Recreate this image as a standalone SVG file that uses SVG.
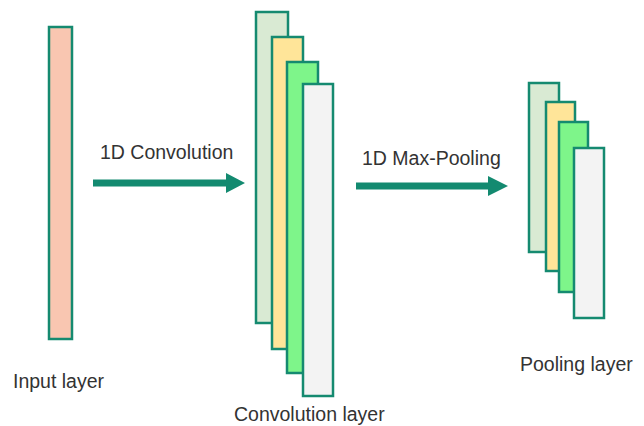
<svg xmlns="http://www.w3.org/2000/svg" width="644" height="426" viewBox="0 0 644 426">
<style>
.b{stroke:#158a70;stroke-width:2.5}
.t{font-family:"Liberation Sans",Arial,sans-serif;font-size:19.5px;fill:#333}
.c1{fill:#d9ead3}.c2{fill:#ffe599}.c3{fill:#7ef58a}.c4{fill:#f3f3f3}
.ar{fill:#138a70}
</style>
<rect width="644" height="426" fill="#fff"/>
<g id="input">
<rect class="b" x="49" y="27" width="23" height="312" fill="#f9c6b1"/>
<text class="t" x="13" y="388">Input layer</text>
</g>
<g id="conv">
<rect class="b c1" x="256" y="12" width="32" height="311"/>
<rect class="b c2" x="272" y="37" width="31" height="312"/>
<rect class="b c3" x="287" y="62" width="31" height="311"/>
<rect class="b c4" x="303" y="84" width="30" height="312"/>
<text class="t" x="234" y="421">Convolution layer</text>
</g>
<g id="pool">
<rect class="b c1" x="529" y="83" width="30" height="169"/>
<rect class="b c2" x="546" y="102" width="29" height="169"/>
<rect class="b c3" x="559" y="122" width="29" height="170"/>
<rect class="b c4" x="574" y="148" width="30" height="170"/>
<text class="t" x="520" y="371">Pooling layer</text>
</g>
<g id="connectors">
<polygon class="ar" points="93,179.5 226,179.5 226,173 245,183 226,193 226,186.5 93,186.5"/>
<text class="t" x="100" y="159">1D Convolution</text>
<polygon class="ar" points="356,182.5 488,182.5 488,176 508,186 488,196 488,189.5 356,189.5"/>
<text class="t" x="362" y="165">1D Max-Pooling</text>
</g>
</svg>
